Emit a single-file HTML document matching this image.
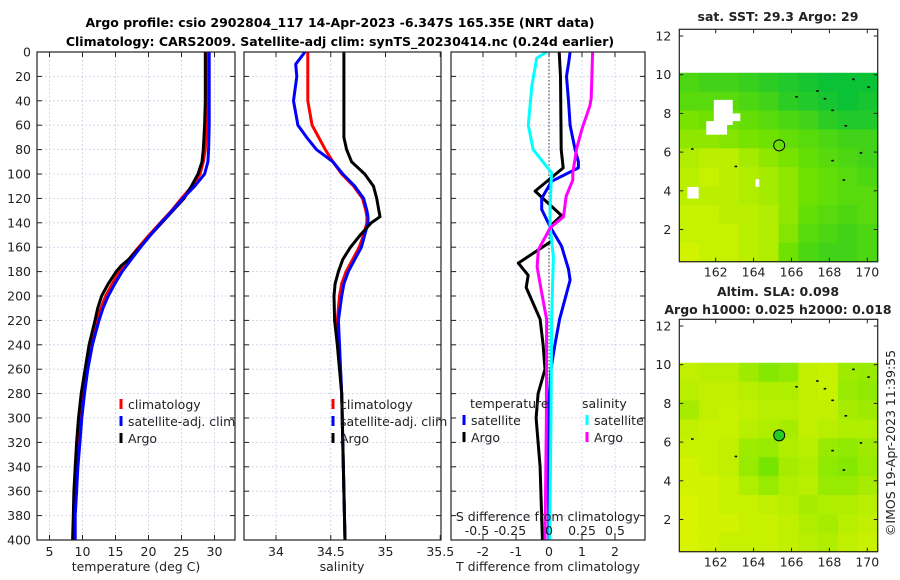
<!DOCTYPE html>
<html><head><meta charset="utf-8"><style>
html,body{margin:0;padding:0;background:#fff;}
svg{display:block;font-family:"DejaVu Sans","Liberation Sans",sans-serif;}
</style></head><body>
<svg id="chart" width="900" height="580" viewBox="0 0 900 580" xmlns="http://www.w3.org/2000/svg">
<text x="340" y="27" font-size="12.5" font-weight="bold" text-anchor="middle">Argo profile: csio 2902804_117 14-Apr-2023 -6.347S 165.35E (NRT data)</text>
<text x="340" y="46" font-size="12.5" font-weight="bold" text-anchor="middle">Climatology: CARS2009. Satellite-adj clim: synTS_20230414.nc (0.24d earlier)</text>
<g id="g"></g>
</svg>
<script>
// ---------- data ----------
const tempDepths = [0,20,40,60,80,90,100,110,120,130,140,150,160,170,175,180,190,200,210,220,240,260,280,300,320,340,360,380,400];
const argoTemp = [28.6,28.6,28.6,28.5,28.3,28.1,27.5,26.5,25.4,23.7,22.0,20.3,18.7,17.0,15.9,15.1,13.9,12.9,12.3,11.9,11.0,10.4,9.8,9.4,9.1,8.9,8.7,8.6,8.5];
const climTemp = [28.9,28.9,28.9,28.8,28.6,28.3,27.8,26.6,25.0,23.5,21.8,20.1,18.5,17.0,16.3,15.6,14.5,13.5,12.8,12.2,11.3,10.6,10.1,9.7,9.3,9.1,8.9,8.7,8.6];
const satTemp  = [29.2,29.2,29.2,29.2,29.1,29.0,28.5,27.0,25.2,23.6,21.9,20.3,18.8,17.4,16.7,16.0,14.9,13.9,13.1,12.5,11.5,10.8,10.3,9.9,9.6,9.3,9.1,8.9,8.9];

const salDepths = [0,10,20,40,60,70,80,90,100,110,120,130,135,140,150,160,170,180,190,200,220,240,280,320,360,400];
const argoSal = [34.62,34.62,34.62,34.62,34.62,34.62,34.645,34.69,34.81,34.89,34.92,34.94,34.95,34.87,34.77,34.68,34.61,34.57,34.54,34.53,34.535,34.56,34.6,34.61,34.62,34.63];
const satSal  = [34.265,34.18,34.19,34.16,34.2,34.28,34.37,34.52,34.61,34.72,34.80,34.83,34.84,34.84,34.81,34.78,34.72,34.66,34.62,34.6,34.57,34.58,34.6,34.61,34.62,34.63];
const climSal = [34.29,34.29,34.29,34.29,34.33,34.39,34.45,34.52,34.60,34.71,34.79,34.82,34.83,34.83,34.8,34.76,34.7,34.64,34.6,34.58,34.56,34.57,34.6,34.61,34.62,34.63];

const argoTdiffD = [0,20,80,95,114,134,143,155,173,183,193,219,240,260,280,300,340,400];
const argoTdiffV = [0.31,0.35,0.37,0.43,-0.42,0.38,0.03,0.08,-0.93,-0.63,-0.69,-0.27,-0.18,-0.12,-0.33,-0.39,-0.27,-0.2];
const satTdiffD = [0,8,20,40,60,80,90,95,106,120,129,143,159,178,187,219,240,260,300,400];
const satTdiffV = [0.64,0.6,0.53,0.59,0.64,0.79,0.89,0.89,0.08,-0.22,-0.22,0.03,0.38,0.59,0.64,0.32,0.18,0.06,-0.03,0.0];
const satSdiffD = [0,5,28,60,80,99,126,143,168,219,300,400];
const satSdiffV = [-0.018,-0.093,-0.13,-0.157,-0.12,0.02,0.008,0.008,0.033,0.02,0.015,0.005];
const argoSdiffD = [0,38,44,63,79,99,105,118,135,144,162,176,197,219,300,400];
const argoSdiffV = [0.33,0.32,0.31,0.25,0.21,0.18,0.18,0.13,0.11,0.01,-0.08,-0.09,-0.056,-0.018,-0.02,-0.03];

const depthTicks = [0,20,40,60,80,100,120,140,160,180,200,220,240,260,280,300,320,340,360,380,400];
const tempTicks = [5,10,15,20,25,30];
const salTicks = [34,34.5,35,35.5];
const salTickLabels = ["34","34.5","35","35.5"];
const tdiffTicks = [-2,-1,0,1,2];
const sdiffTicks = [-0.5,-0.25,0,0.25,0.5];
const sdiffTickLabels = ["-0.5","-0.25","0","0.25","0.5"];
const latTicks = [2,4,6,8,10,12];
const lonTicks = [162,164,166,168,170];

const sstGrid = [
[0.35,0.3,0.3,0.25,0.2,0.15,0.1,0.05,0.05,0.05],
[0.4,0.4,0.4,0.35,0.3,0.2,0.15,0.1,0.05,0.1],
[0.55,0.5,0.5,0.45,0.4,0.35,0.3,0.2,0.15,0.15],
[0.65,0.65,0.6,0.55,0.5,0.45,0.4,0.35,0.3,0.3],
[0.8,0.85,0.85,0.75,0.65,0.55,0.45,0.4,0.35,0.3],
[0.85,0.9,0.85,0.8,0.75,0.65,0.5,0.45,0.4,0.35],
[0.85,0.85,0.85,0.8,0.75,0.65,0.5,0.45,0.4,0.4],
[0.9,0.9,0.85,0.85,0.8,0.65,0.45,0.4,0.35,0.4],
[0.9,0.9,0.9,0.85,0.8,0.6,0.4,0.35,0.3,0.35],
[0.95,0.9,0.9,0.85,0.8,0.5,0.35,0.3,0.3,0.35]];
const slaGrid = [
[0.8,0.75,0.75,0.6,0.45,0.5,0.8,0.85,0.6,0.55],
[0.75,0.8,0.8,0.75,0.7,0.7,0.8,0.85,0.55,0.5],
[0.65,0.8,0.85,0.8,0.75,0.75,0.8,0.8,0.65,0.6],
[0.8,0.85,0.85,0.75,0.7,0.65,0.8,0.75,0.7,0.7],
[0.85,0.85,0.8,0.6,0.55,0.7,0.75,0.55,0.5,0.6],
[0.9,0.85,0.8,0.55,0.35,0.65,0.7,0.5,0.45,0.55],
[0.9,0.9,0.85,0.7,0.55,0.7,0.75,0.55,0.55,0.65],
[0.95,0.9,0.85,0.85,0.8,0.75,0.65,0.7,0.7,0.75],
[0.95,0.9,0.9,0.85,0.85,0.8,0.7,0.65,0.75,0.8],
[0.95,0.9,0.85,0.85,0.85,0.8,0.75,0.7,0.8,0.85]];
const floatLon = 165.35, floatLat = 6.35;

// ---------- helpers ----------
const NS="http://www.w3.org/2000/svg";
const G=document.getElementById('g');
function mk(tag,attrs,parent){const e=document.createElementNS(NS,tag);for(const k in attrs)e.setAttribute(k,attrs[k]);(parent||G).appendChild(e);return e;}
const Y0=52,Y1=540;
const yD=d=>Y0+(Y1-Y0)*d/400;
const xT=t=>49.5+(t-5)*6.6;
const xS=s=>276+(s-34)*109.5;
const xTd=t=>549+t*33;
const xSd=s=>549+s*132;
const panels=[{x0:37,x1:235,name:'temperature-panel'},{x0:244,x1:441,name:'salinity-panel'},{x0:451,x1:645,name:'difference-panel'}];

function panelFrame(p,xticks,xf){
  const g=mk('g',{});
  
  
  mk('rect',{x:p.x0,y:Y0,width:p.x1-p.x0,height:Y1-Y0,fill:'#fff'},g);
  depthTicks.forEach(d=>{
    if(d>0&&d<400){const l=mk('line',{x1:p.x0,x2:p.x1,y1:yD(d),y2:yD(d),stroke:'#c8d0e8','stroke-width':0.8,'stroke-dasharray':'2,2'},g);
    
    }
    mk('line',{x1:p.x0,x2:p.x0+5,y1:yD(d),y2:yD(d),stroke:'#222'},g);
    mk('line',{x1:p.x1-5,x2:p.x1,y1:yD(d),y2:yD(d),stroke:'#222'},g);
  });
  xticks.forEach(v=>{const x=xf(v);
    if(x>p.x0+1&&x<p.x1-1){const l=mk('line',{x1:x,x2:x,y1:Y0,y2:Y1,stroke:'#c8d0e8','stroke-width':0.8,'stroke-dasharray':'2,2'},g);
    
    }
    mk('line',{x1:x,x2:x,y1:Y1-5,y2:Y1,stroke:'#222'},g);
    mk('line',{x1:x,x2:x,y1:Y0,y2:Y0+5,stroke:'#222'},g);
  });
  return g;
}
function frameBorder(p){mk('rect',{x:p.x0,y:Y0,width:p.x1-p.x0,height:Y1-Y0,fill:'none',stroke:'#222','stroke-width':1.2});}
function line(depths,vals,xf,color,name,w){
  const pts=depths.map((d,i)=>xf(vals[i]).toFixed(1)+','+yD(d).toFixed(1)).join(' ');
  const e=mk('polyline',{points:pts,fill:'none',stroke:color,'stroke-width':w||3,'stroke-linejoin':'round'});
  
  
}
function txt(x,y,s,opts){const e=mk('text',Object.assign({x:x,y:y,'font-size':12.5,fill:'#222'},opts||{}));e.textContent=s;return e;}

// ---------- panel 1 ----------
panelFrame(panels[0],tempTicks,xT);
line(tempDepths,climTemp,xT,'#ff0000','climatology-temp-line');
line(tempDepths,argoTemp,xT,'#000000','argo-temp-line');
line(tempDepths,satTemp,xT,'#0000ff','satellite-temp-line');
frameBorder(panels[0]);
depthTicks.forEach(d=>{const t=txt(31,yD(d)+4.5,String(d),{'text-anchor':'end'});
  
  });
tempTicks.forEach(v=>{const t=txt(xT(v),556,String(v),{'text-anchor':'middle'});
  
  });
{const t=txt(136,571,'temperature (deg C)',{'text-anchor':'middle'});

}

// ---------- panel 2 ----------
panelFrame(panels[1],salTicks,xS);
line(salDepths,climSal,xS,'#ff0000','climatology-sal-line');
line(salDepths,satSal,xS,'#0000ff','satellite-sal-line');
line(salDepths,argoSal,xS,'#000000','argo-sal-line');
frameBorder(panels[1]);
salTicks.forEach((v,i)=>{const t=txt(xS(v),556,salTickLabels[i],{'text-anchor':'middle'});
  
  });
{const t=txt(342,571,'salinity',{'text-anchor':'middle'});

}

// ---------- panel 3 ----------
panelFrame(panels[2],tdiffTicks,xTd);
{const z=mk('line',{x1:549,x2:549,y1:Y0,y2:Y1,stroke:'#333','stroke-width':1,'stroke-dasharray':'1.5,2'});

}
line(argoTdiffD,argoTdiffV,xTd,'#000000','argo-temp-diff-line');
line(satTdiffD,satTdiffV,xTd,'#0000ff','satellite-temp-diff-line');
line(satSdiffD,satSdiffV,xSd,'#00ffff','satellite-sal-diff-line');
line(argoSdiffD,argoSdiffV,xSd,'#ff00ff','argo-sal-diff-line');
frameBorder(panels[2]);
tdiffTicks.forEach(v=>{const t=txt(xTd(v),556,String(v),{'text-anchor':'middle'});
  
  });
{const t=txt(548,571,'T difference from climatology',{'text-anchor':'middle'});

}
{const t=txt(548,521,'S difference from climatology',{'text-anchor':'middle'});

}
sdiffTicks.forEach((v,i)=>{const t=txt(xSd(v)-(v<0?6:0),535,sdiffTickLabels[i],{'text-anchor':'middle'});
  
  });

// ---------- legends ----------
function legendEntry(mx,y,color,label,name){
  const g=mk('g',{});
  
  
  mk('line',{x1:mx,x2:mx,y1:y-10,y2:y,stroke:color,'stroke-width':3},g);
  const t=mk('text',{x:mx+7,y:y,'font-size':12.5,fill:'#222'},g);t.textContent=label;
}
legendEntry(121,409,'#ff0000','climatology','legend-climatology-temp');
legendEntry(121,426,'#0000ff','satellite-adj. clim','legend-satellite-temp');
legendEntry(121,443,'#000000','Argo','legend-argo-temp');
legendEntry(333,409,'#ff0000','climatology','legend-climatology-sal');
legendEntry(333,426,'#0000ff','satellite-adj. clim','legend-satellite-sal');
legendEntry(333,443,'#000000','Argo','legend-argo-sal');
{const t=txt(470,408,'temperature');}
{const t=txt(582,408,'salinity');}
legendEntry(464,425,'#0000ff','satellite','legend-satellite-tdiff');
legendEntry(464,442,'#000000','Argo','legend-argo-tdiff');
legendEntry(587,425,'#00ffff','satellite','legend-satellite-sdiff');
legendEntry(587,442,'#ff00ff','Argo','legend-argo-sdiff');

// ---------- maps ----------
function colorSST(v){return v<0.5?mix([0,190,60],[110,225,0],v/0.5):mix([110,225,0],[220,245,0],(v-0.5)/0.5);}
function colorSLA(v){return mix([60,220,0],[225,245,0],v);}
function mix(a,b,t){return 'rgb('+a.map((c,i)=>Math.round(c+(b[i]-c)*t)).join(',')+')';}
function drawMap(top,grid,colf,name,whites){
  const X0=679.3,X1=877.7,Yt=top,Yb=top+232.4;
  const lonX=l=>715.7+(l-162)*18.95;
  const latY=l=>top+45.4+(10-l)*19.35;
  const g=mk('g',{});
  
  
  const rows=grid.length,cols=grid[0].length;
  const yTopData=latY(10.1);
  const ch=(Yb-yTopData)/rows,cw=(X1-X0)/cols;
  grid.forEach((row,r)=>row.forEach((v,c)=>{
    const cell=mk('rect',{x:(X0+c*cw).toFixed(2),y:(yTopData+r*ch).toFixed(2),width:(cw+0.6).toFixed(2),height:(ch+0.6).toFixed(2),fill:colf(v)},g);
    
    
  }));
  (whites||[]).forEach(w=>mk('rect',{x:lonX(w[0]),y:latY(w[3]),width:lonX(w[1])-lonX(w[0]),height:latY(w[2])-latY(w[3]),fill:'#fff'},g));
  [[167.3,9.2],[167.7,8.8],[169.2,9.8],[170,9.4],[168.1,8.2],[168.8,7.4],[169.6,6],[168.7,4.6],[163,5.3],[160.7,6.2],[166.2,8.9],[168.1,5.6]].forEach(p=>{
    const d=mk('rect',{x:lonX(p[0]),y:latY(p[1]),width:2.5,height:1.6,fill:'#000'},g);
    
    
  });
  const c=mk('circle',{cx:lonX(floatLon),cy:latY(floatLat),r:5.5,fill:name==='sla-map'?'#22cc22':'none',stroke:'#000','stroke-width':1},g);
  
  
  mk('rect',{x:X0,y:Yt,width:X1-X0,height:Yb-Yt,fill:'none',stroke:'#222','stroke-width':1.2},g);
  latTicks.forEach(l=>{const y=latY(l);
    mk('line',{x1:X0,x2:X0+4,y1:y,y2:y,stroke:'#222'},g);mk('line',{x1:X1-4,x2:X1,y1:y,y2:y,stroke:'#222'},g);
    const t=mk('text',{x:X0-8,y:y+4.5,'font-size':12.5,'text-anchor':'end',fill:'#222'},g);t.textContent=String(l);
    
    });
  lonTicks.forEach(l=>{const x=lonX(l);
    mk('line',{x1:x,x2:x,y1:Yb-4,y2:Yb,stroke:'#222'},g);mk('line',{x1:x,x2:x,y1:Yt,y2:Yt+4,stroke:'#222'},g);
    const t=mk('text',{x:x,y:Yb+15,'font-size':12.5,'text-anchor':'middle',fill:'#222'},g);t.textContent=String(l);
    
    });
}
drawMap(29.3,sstGrid,colorSST,'sst-map',[[161.9,162.9,7.4,8.7],[161.5,162.6,6.9,7.6],[162.6,163.3,7.6,8.0],[160.5,161.1,3.6,4.2],[164.1,164.3,4.2,4.6]]);
drawMap(319.3,slaGrid,colorSLA,'sla-map',[]);
{const t=txt(778,21,'sat. SST: 29.3 Argo: 29',{'text-anchor':'middle','font-weight':'bold'});}
{const t=txt(778,296,'Altim. SLA: 0.098',{'text-anchor':'middle','font-weight':'bold'});}
{const t=txt(778,314,'Argo h1000: 0.025 h2000: 0.018',{'text-anchor':'middle','font-weight':'bold'});}
{const t=txt(0,0,'©IMOS 19-Apr-2023 11:39:55',{'text-anchor':'middle',transform:'translate(895,443) rotate(-90)'});}
</script>
</body></html>
